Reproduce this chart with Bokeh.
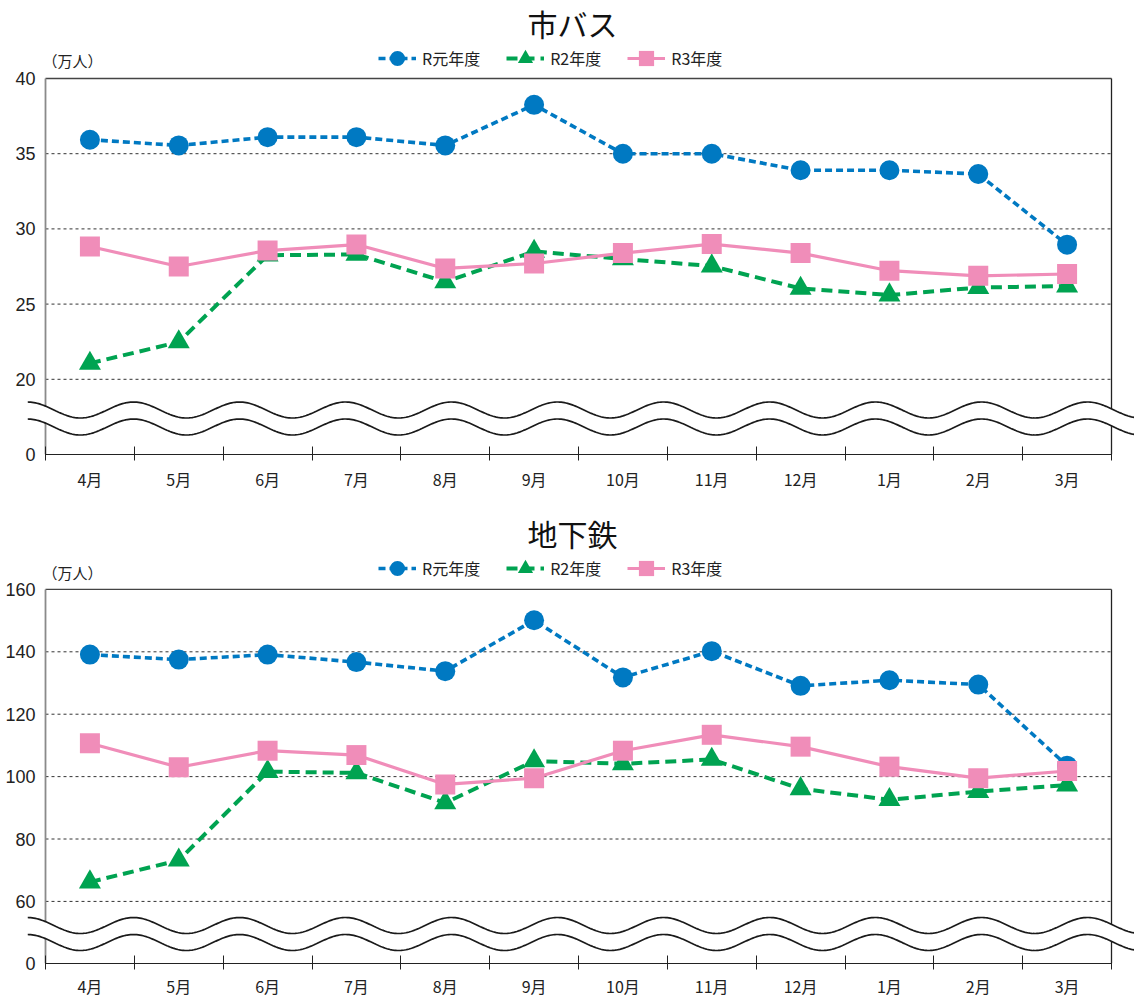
import numpy as np
from bokeh.plotting import figure
from bokeh.models import (Range1d, FixedTicker, LinearAxis, Legend, LegendItem, Label)
from bokeh.layouts import column
from bokeh.embed import file_html
from bokeh.resources import INLINE

# ---------------- data ----------------
months = ["4月", "5月", "6月", "7月", "8月", "9月", "10月", "11月", "12月", "1月", "2月", "3月"]
series_names = ["R元年度", "R2年度", "R3年度"]

bus_r1 = [35.93, 35.55, 36.1, 36.1, 35.55, 38.25, 35.0, 35.0, 33.9, 33.9, 33.65, 28.95]
bus_r2 = [21.06, 22.48, 28.25, 28.3, 26.48, 28.5, 28.0, 27.53, 26.04, 25.6, 26.1, 26.2]
bus_r3 = [28.83, 27.5, 28.56, 28.96, 27.37, 27.7, 28.39, 28.99, 28.39, 27.22, 26.88, 27.0]

sub_r1 = [139.1, 137.5, 139.1, 136.7, 133.8, 150.1, 131.8, 140.2, 129.1, 130.9, 129.5, 103.5]
sub_r2 = [66.2, 73.2, 101.6, 101.2, 91.6, 105.0, 104.1, 105.5, 96.1, 92.6, 95.2, 97.3]
sub_r3 = [110.7, 103.0, 108.3, 106.9, 97.5, 99.5, 108.3, 113.4, 109.6, 103.2, 99.5, 101.8]

bus_ticks = [20, 25, 30, 35, 40]
sub_ticks = [60, 80, 100, 120, 140, 160]
unit_label = "（万人）"

# ---------------- layout / style ----------------
W = 1134
LEFT = 27                      # left panel width (frame starts here)
PPX = (1111 - 45) / 12.0       # pixels per month
X_LO = -(45 - LEFT) / PPX
X_HI = (W - 45) / PPX
BLUE = "#0079C2"
GREEN = "#00A351"
PINK = "#F08DB9"
GRID = "#333333"
JP = "Noto Sans CJK JP"
NUM = "Liberation Sans"

xs = [i + 0.5 for i in range(len(months))]


def panel(title, r1, r2, r3, ticks, y_lo, ppu, frame_h, height, xlab_standoff,
          title_fy, unit_fy, legend_cy, wave_fy):
    y_hi = y_lo + frame_h / ppu

    def fy2v(fy):      # figure pixel row -> data value (layout helper)
        return y_lo + (frame_h - fy) / ppu

    top = ticks[-1]
    p = figure(width=W, height=height, x_range=Range1d(X_LO, X_HI),
               y_range=Range1d(y_lo, y_hi),
               x_axis_type=None, y_axis_type=None, output_backend="svg",
               toolbar_location=None, min_border_left=LEFT, min_border_right=0,
               min_border_top=0, min_border_bottom=height - frame_h,
               outline_line_color=None, background_fill_color="white")

    # y axis (labels only)
    yax = LinearAxis(ticker=FixedTicker(ticks=[y_lo] + ticks),
                     major_label_overrides={y_lo: "0"},
                     major_tick_line_color=None, major_tick_in=0, major_tick_out=0,
                     minor_tick_line_color=None, axis_line_color=None,
                     major_label_standoff=-8, major_label_text_font_size="18px",
                     major_label_text_font=NUM, major_label_text_color="#222222")
    p.add_layout(yax, "left")

    # x axis (bounded to the plot box)
    xax = LinearAxis(ticker=FixedTicker(ticks=xs, minor_ticks=list(range(13))),
                     major_label_overrides={x: m for x, m in zip(xs, months)},
                     bounds=(0, 12),
                     major_tick_line_color=None, major_tick_in=0, major_tick_out=0,
                     minor_tick_in=8, minor_tick_out=6, minor_tick_line_color="#222222",
                     axis_line_color="#222222", axis_line_width=1.2,
                     major_label_standoff=xlab_standoff, major_label_text_font_size="16px",
                     major_label_text_font=JP, major_label_text_color="#222222")
    p.add_layout(xax, "below")

    # dashed horizontal grid lines inside the plot box
    gt = ticks[:-1]
    p.segment(x0=[0] * len(gt), x1=[12] * len(gt), y0=gt, y1=gt,
              line_color=GRID, line_dash="3 3", line_width=1)
    # box borders
    p.segment(x0=[0], x1=[12], y0=[top], y1=[top], line_color="#444444", line_width=1.4)
    p.segment(x0=[0], x1=[0], y0=[y_lo], y1=[top], line_color="#8a8a8a", line_width=1.8)
    p.segment(x0=[12], x1=[12], y0=[y_lo], y1=[top], line_color="#222222", line_width=1.3)

    # axis-break waves
    period = 106 / PPX
    xw = np.linspace(X_LO, X_HI, 700)
    cosv = np.cos(2 * np.pi * (xw - X_LO) / period)
    upper = fy2v(wave_fy) + (8 / ppu) * cosv
    lower = fy2v(wave_fy + 17) + (8 / ppu) * cosv
    p.varea(x=xw, y1=lower, y2=upper, fill_color="white", fill_alpha=1.0)
    p.line(xw, upper, line_color="#1a1a1a", line_width=1.7)
    p.line(xw, lower, line_color="#1a1a1a", line_width=1.7)

    # series
    l1 = p.line(xs, r1, line_color=BLUE, line_width=3.6, line_dash="7 4")
    m1 = p.scatter(xs, r1, marker="circle", size=20, fill_color=BLUE, line_color=None)
    l2 = p.line(xs, r2, line_color=GREEN, line_width=4, line_dash="11 6")
    m2 = p.scatter(xs, r2, marker="triangle", size=22, fill_color=GREEN, line_color=None)
    l3 = p.line(xs, r3, line_color=PINK, line_width=3.2)
    m3 = p.scatter(xs, r3, marker="square", size=20, fill_color=PINK, line_color=None)

    gh = 38
    legend = Legend(items=[LegendItem(label=series_names[0], renderers=[l1, m1]),
                           LegendItem(label=series_names[1], renderers=[l2, m2]),
                           LegendItem(label=series_names[2], renderers=[l3, m3])],
                    orientation="horizontal",
                    location=(378 - LEFT, frame_h - (legend_cy + gh / 2.0)),
                    border_line_color=None, background_fill_alpha=0,
                    label_text_font_size="16px", label_text_font=JP,
                    label_text_color="#222222",
                    glyph_width=38, glyph_height=gh, label_standoff=6, spacing=26,
                    padding=0, margin=0)
    p.add_layout(legend)

    p.add_layout(Label(x=(572 - 45) / PPX, y=fy2v(title_fy), text=title,
                       text_align="center", text_baseline="middle", text_font=JP,
                       text_font_size="30px", text_color="#111111"))
    p.add_layout(Label(x=(42 - 45) / PPX, y=fy2v(unit_fy), text=unit_label,
                       text_align="left", text_baseline="middle", text_font=JP,
                       text_font_size="15px", text_color="#222222"))
    return p


p1 = panel("市バス", bus_r1, bus_r2, bus_r3, bus_ticks, 15.0, 376 / 25.0,
           frame_h=454, height=493, xlab_standoff=6,
           title_fy=22, unit_fy=60, legend_cy=58, wave_fy=409.5)
p2 = panel("地下鉄", sub_r1, sub_r2, sub_r3, sub_ticks, 40.1, 3.12,
           frame_h=470, height=507, xlab_standoff=4,
           title_fy=39, unit_fy=79, legend_cy=75, wave_fy=432)

layout = column(p1, p2, spacing=0)
open("out.html", "w").write(file_html(layout, INLINE))
